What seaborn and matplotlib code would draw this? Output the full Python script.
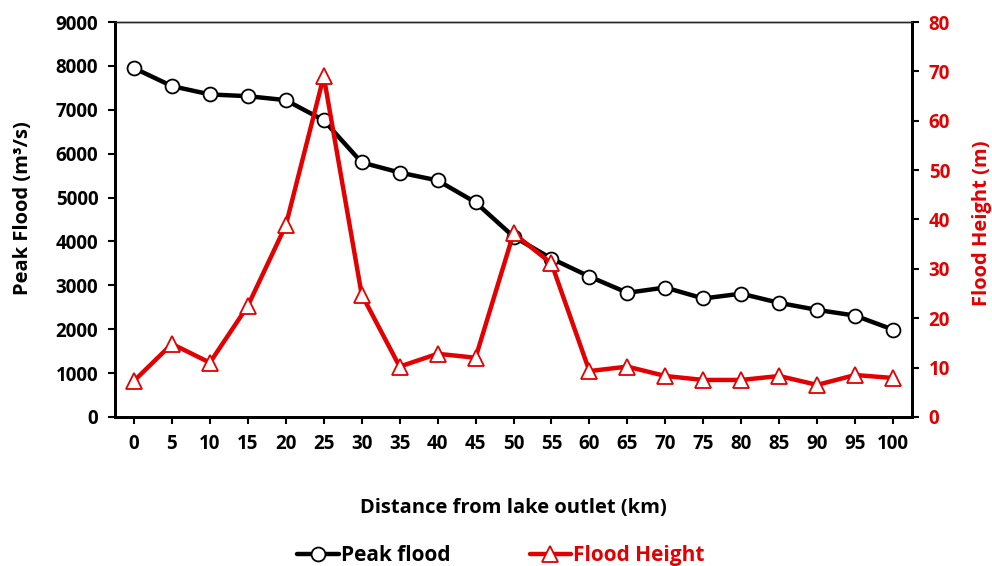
import numpy as np
import pandas as pd
import matplotlib
matplotlib.use("Agg")
import matplotlib.pyplot as plt
import seaborn as sns


# Distance from lake outlet (km)
distance = [0, 5, 10, 15, 20, 25, 30, 35, 40, 45, 50,
            55, 60, 65, 70, 75, 80, 85, 90, 95, 100]

# Peak flood (m3/s)
peak_flood = [7950, 7540, 7350, 7310, 7220, 6760, 5800, 5570, 5390, 4890, 4110,
              3610, 3200, 2830, 2950, 2700, 2810, 2600, 2440, 2310, 1990]

# Flood height (m)
flood_height = [7.3, 14.8, 11.0, 22.5, 38.8, 69.0, 24.8, 10.2, 12.8, 12.0, 37.2,
                31.1, 9.3, 10.2, 8.3, 7.5, 7.5, 8.3, 6.5, 8.5, 7.9]

left_ticks = [0, 1000, 2000, 3000, 4000, 5000, 6000, 7000, 8000, 9000]
right_ticks = [0, 10, 20, 30, 40, 50, 60, 70, 80]

RED = "#E30000"


def build_frame():

    df = pd.DataFrame({
        "pos": np.arange(len(distance)),
        "distance": distance,
        "peak": peak_flood,
        "height": flood_height,
    })

    return df


def plot_chart(df):

    sns.set_style("ticks")
    plt.rcParams["font.family"] = ["Open Sans", "DejaVu Sans"]
    plt.rcParams["font.weight"] = "bold"
    plt.rcParams["text.color"] = "black"
    plt.rcParams["axes.labelcolor"] = "black"
    plt.rcParams["xtick.color"] = "black"
    plt.rcParams["ytick.color"] = "black"

    fig = plt.figure(figsize=(9.92, 5.66), dpi=100)
    ax = fig.add_axes([0.1159, 0.2633, 0.8035, 0.6978])
    ax2 = ax.twinx()

    sns.lineplot(
        data=df, x="pos", y="peak", ax=ax,
        color="black", linewidth=3.2,
        marker="o", markersize=10, markerfacecolor="white",
        markeredgecolor="black", markeredgewidth=1.3,
        label="Peak flood", legend=False, zorder=3
    )

    sns.lineplot(
        data=df, x="pos", y="height", ax=ax2,
        color=RED, linewidth=3.2,
        marker="^", markersize=11, markerfacecolor="white",
        markeredgecolor=RED, markeredgewidth=1.3,
        label="Flood Height", legend=False, zorder=3
    )

    ax.set_xlim(-0.5, len(distance) - 0.5)
    ax.set_ylim(0, 9000)
    ax2.set_ylim(0, 80)

    ax.set_xticks(df["pos"])
    ax.set_xticklabels(distance)
    ax.set_yticks(left_ticks)
    ax2.set_yticks(right_ticks)

    ax.tick_params(axis="both", labelsize=13.5, width=1.5, length=5,
                   direction="out", pad=7)
    ax2.tick_params(axis="y", labelsize=13.5, width=1.5, length=5,
                    direction="out", pad=7, labelcolor=RED)

    ax.set_xlabel("Distance from lake outlet (km)", fontsize=14.5,
                  fontweight="bold", labelpad=32)
    ax.set_ylabel("Peak Flood (m³/s)", fontsize=14.5, fontweight="bold")
    ax2.set_ylabel("Flood Height (m)", fontsize=14.5, fontweight="bold",
                   color=RED)
    ax.yaxis.set_label_coords(-0.103, 0.53)
    ax2.yaxis.set_label_coords(1.075, 0.49)

    for a in (ax, ax2):
        for side in ("left", "right", "bottom"):
            a.spines[side].set_linewidth(2)
            a.spines[side].set_color("black")
        a.spines["top"].set_linewidth(1)
        a.spines["top"].set_visible(True)
        a.spines["right"].set_visible(True)

    h1, l1 = ax.get_legend_handles_labels()
    h2, l2 = ax2.get_legend_handles_labels()

    leg = fig.legend(
        h1 + h2, l1 + l2,
        loc="center", bbox_to_anchor=(0.505, 0.018),
        ncol=2, frameon=False,
        handlelength=2.0, handletextpad=0.1, columnspacing=3.8,
        prop={"weight": "bold", "size": 15}
    )
    for text, col in zip(leg.get_texts(), ["black", RED]):
        text.set_color(col)

    fig.savefig("out.png", dpi=100, facecolor="white")
    plt.close(fig)


if __name__ == "__main__":

    data = build_frame()

    plot_chart(data)
